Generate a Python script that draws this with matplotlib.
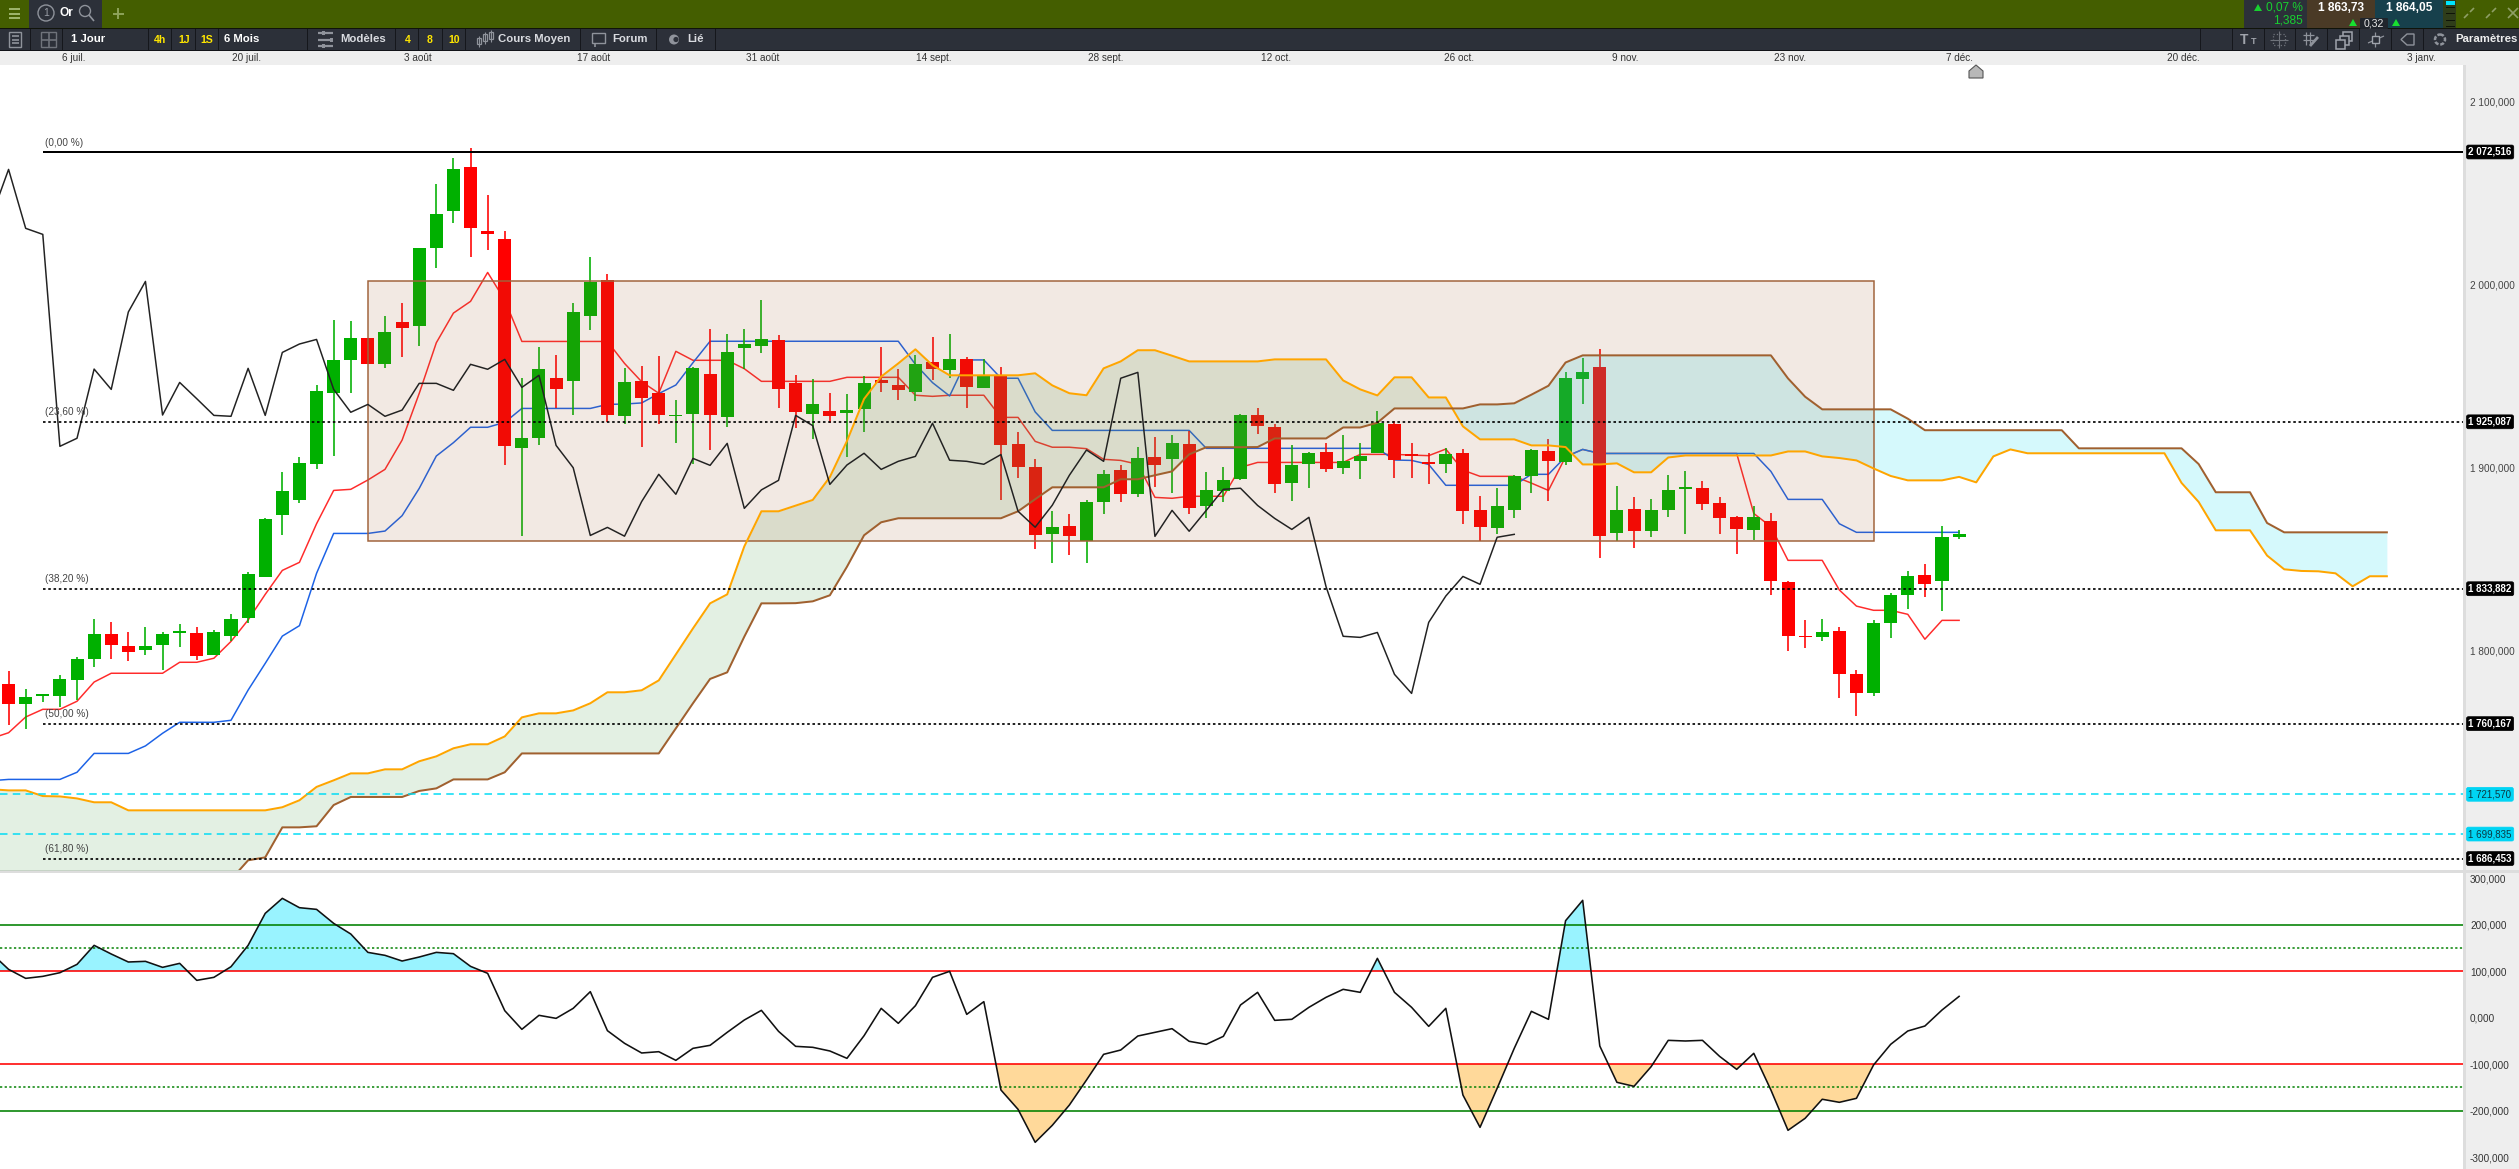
import numpy as np
import matplotlib
matplotlib.use("Agg")
import matplotlib.pyplot as plt
from matplotlib.patches import Rectangle, Circle, Polygon, FancyBboxPatch
from matplotlib.transforms import blended_transform_factory

plt.rcParams['font.family'] = ['Liberation Sans']

# ---------------- data ----------------
direction = (
    "RGGGGGRRGG" "GRGGGGGGGG" "GRGRGGGRRR" "GGRGGRGRRG" "GRGGGRRGRG"
    "GRRGRGRGRR" "RGRGGRGRGR" "GGGRRGGRGG" "GRRRGRRGGG" "RGGRGRGGGR"
    "RRGRRRGRRG" "GGRGG"
)

body_top = [1781.8,1774.7,1775.6,1784.6,1795.5,1809.2,1809.2,1802.6,1802.6,1809.2,
            1810.1,1809.7,1810.2,1817.3,1841.9,1872.0,1887.3,1902.6,1941.9,1958.9,
            1970.9,1970.9,1974.1,1979.6,2020.0,2038.6,2063.2,2064.3,2029.3,2024.9,
            1916.2,1953.9,1949.0,1985.1,2001.6,2002.6,1946.8,1947.4,1940.8,1928.2,
            1954.5,1951.2,1963.2,1967.6,1970.3,1969.8,1946.3,1934.8,1931.0,1931.5,
            1946.3,1947.9,1945.2,1956.7,1957.8,1959.4,1959.4,1950.1,1950.1,1913.0,
            1900.4,1867.6,1868.2,1881.3,1896.6,1898.8,1905.3,1905.9,1913.5,1913.0,
            1887.9,1893.3,1928.8,1928.8,1922.2,1901.5,1908.0,1908.6,1903.6,1906.4,
            1924.4,1923.9,1906.9,1903.1,1907.5,1908.0,1876.9,1879.1,1895.4,1909.7,
            1909.1,1949.0,1952.3,1955.0,1876.9,1877.4,1876.9,1887.8,1888.9,1888.9,
            1880.7,1873.1,1873.1,1870.9,1837.5,1807.7,1810.2,1810.8,1787.3,1815.1,
            1830.5,1840.9,1841.4,1862.2,1863.8]
body_bot = [1771.1,1771.1,1775.5,1775.5,1784.2,1795.7,1803.3,1799.5,1800.6,1803.3,
            1809.8,1797.3,1797.7,1808.2,1818.1,1840.3,1874.2,1882.5,1902.2,1940.8,
            1958.9,1956.7,1956.7,1976.3,1977.4,2020.0,2040.2,2031.0,2027.7,1911.9,
            1910.8,1916.2,1943.0,1947.4,1982.9,1928.8,1928.4,1938.1,1928.8,1928.0,
            1929.4,1928.8,1927.7,1965.4,1966.5,1943.0,1930.5,1929.4,1928.3,1929.9,
            1932.1,1946.3,1942.5,1941.4,1954.0,1953.4,1944.1,1943.6,1912.4,1900.4,
            1863.3,1863.8,1862.7,1859.8,1881.3,1885.7,1885.7,1901.5,1904.8,1878.0,
            1879.1,1887.3,1893.9,1922.8,1891.1,1891.6,1902.0,1899.3,1899.8,1903.6,
            1908.0,1904.2,1906.5,1902.2,1902.0,1876.3,1867.6,1867.0,1876.9,1895.4,
            1903.6,1903.1,1948.4,1862.7,1864.3,1865.4,1865.4,1876.9,1888.5,1880.2,
            1872.5,1866.5,1866.0,1838.1,1808.0,1807.3,1807.5,1787.3,1776.9,1776.9,
            1815.2,1830.5,1836.5,1838.1,1862.2]
wick_hi = [1788.9,1779.1,1776.2,1786.8,1796.6,1817.3,1815.7,1810.2,1813.0,1810.2,
           1814.6,1813.0,1811.3,1820.0,1843.0,1872.5,1897.7,1905.9,1945.2,1980.7,
           1980.2,1970.9,1982.9,1990.0,2020.0,2055.0,2069.2,2074.7,2049.0,2029.3,
           1949.0,1966.0,1961.6,1990.0,2015.1,2005.8,1954.5,1955.6,1961.0,1937.0,
           1955.0,1975.8,1973.1,1975.8,1991.6,1972.5,1950.7,1948.5,1940.8,1940.3,
           1950.1,1966.0,1953.9,1961.6,1971.4,1973.1,1960.5,1959.4,1955.0,1919.5,
           1904.8,1876.4,1874.7,1882.4,1898.8,1901.5,1911.3,1916.8,1917.9,1920.0,
           1897.7,1900.4,1929.4,1932.6,1923.9,1912.4,1908.6,1913.5,1917.9,1913.5,
           1930.9,1925.5,1913.5,1908.0,1910.7,1910.2,1884.5,1888.9,1896.0,1910.2,
           1915.7,1952.3,1959.9,1964.8,1890.0,1884.0,1882.9,1896.0,1898.2,1892.7,
           1884.0,1873.6,1879.1,1875.2,1838.1,1816.8,1817.3,1813.0,1789.5,1816.8,
           1831.6,1843.6,1847.4,1868.2,1866.0]
wick_lo = [1759.4,1757.4,1772.2,1769.1,1772.9,1791.3,1795.7,1794.6,1797.9,1789.3,
           1802.2,1795.1,1797.7,1805.5,1815.3,1840.3,1863.2,1880.7,1899.5,1906.4,
           1940.8,1956.7,1954.5,1960.5,1966.5,2009.1,2033.7,2015.1,2018.9,1901.5,
           1862.7,1912.4,1932.6,1928.8,1975.2,1925.0,1923.9,1911.5,1924.1,1913.5,
           1902.1,1909.7,1922.3,1954.0,1962.7,1932.6,1921.7,1915.7,1924.6,1905.9,
           1919.5,1941.4,1937.0,1936.5,1947.9,1949.0,1932.6,1943.6,1882.4,1894.4,
           1855.6,1848.0,1852.3,1848.0,1874.7,1881.3,1884.0,1889.5,1886.2,1874.7,
           1872.5,1881.3,1893.3,1918.4,1886.2,1881.8,1888.9,1897.6,1896.5,1893.8,
           1908.0,1894.4,1894.4,1891.1,1897.1,1869.2,1859.9,1863.8,1872.5,1886.2,
           1881.8,1901.5,1934.8,1850.7,1859.9,1856.1,1862.1,1873.1,1863.8,1876.9,
           1863.8,1852.8,1860.5,1830.4,1799.8,1801.5,1805.3,1774.2,1764.3,1775.3,
           1807.0,1822.8,1829.4,1821.8,1861.1]

# lines start one session left of the first candle (index -1)
tenkan = [1752.1,1755.2,1763.8,1768.0,1768.0,1772.4,1782.9,1787.7,1787.7,1787.7,
          1787.7,1793.7,1793.7,1795.9,1805.1,1816.8,1830.8,1843.9,1848.3,1869.4,
          1887.6,1888.2,1893.3,1899.1,1915.1,1940.6,1968.3,1984.5,1990.9,2006.7,
          1991.6,1969.0,1969.0,1969.0,1969.0,1969.0,1969.0,1957.0,1947.0,1940.7,
          1963.6,1958.7,1958.7,1958.7,1954.1,1947.2,1947.2,1947.2,1947.2,1947.2,
          1949.4,1949.4,1949.4,1949.4,1939.6,1939.0,1939.6,1939.6,1939.6,1927.5,
          1927.5,1914.4,1911.2,1911.2,1910.4,1904.6,1904.0,1901.9,1883.8,1883.3,
          1884.4,1884.4,1884.4,1900.2,1902.9,1902.9,1902.9,1902.9,1902.9,1902.9,
          1907.3,1907.3,1907.3,1906.9,1906.6,1910.2,1898.7,1895.3,1895.3,1895.3,
          1891.6,1887.6,1906.0,1910.0,1907.8,1907.8,1907.8,1907.8,1907.8,1907.8,
          1907.8,1907.8,1907.8,1875.0,1867.8,1849.4,1849.4,1849.4,1833.2,1824.4,
          1822.1,1822.1,1819.9,1806.3,1816.6,1816.6]
kijun = [1729.0,1729.7,1729.7,1729.7,1729.7,1733.6,1743.9,1743.9,1743.9,1748.0,
         1754.9,1760.9,1760.9,1760.9,1762.0,1778.5,1793.1,1808.0,1813.7,1842.3,
         1864.1,1864.1,1864.1,1865.4,1873.8,1888.7,1906.4,1913.7,1922.1,1922.1,
         1924.8,1932.4,1932.4,1932.4,1932.4,1932.4,1934.6,1934.8,1935.4,1940.5,
         1945.2,1957.4,1969.1,1969.1,1969.1,1969.1,1969.1,1969.1,1969.1,1969.1,
         1969.1,1969.1,1969.1,1969.1,1956.5,1946.5,1939.2,1958.9,1958.9,1948.9,
         1948.9,1930.5,1920.4,1920.4,1920.4,1920.4,1920.4,1920.4,1920.4,1920.4,
         1920.4,1910.6,1910.6,1910.6,1910.6,1910.6,1910.6,1910.6,1910.6,1910.6,
         1910.6,1910.6,1904.2,1904.0,1901.8,1890.4,1890.4,1890.4,1890.4,1890.4,
         1896.4,1896.4,1906.0,1910.0,1907.8,1907.8,1907.8,1907.8,1907.8,1907.8,
         1907.8,1907.8,1907.8,1907.8,1898.0,1882.7,1882.7,1882.7,1869.4,1864.7,
         1864.7,1864.7,1864.7,1864.7,1864.7,1864.7]
chikou = [2037.2,2063.0,2030.8,2027.5,1911.7,1916.1,1953.9,1942.8,1985.1,2001.8,
          1928.8,1946.6,1937.7,1928.6,1928.1,1954.3,1928.6,1963.0,1967.6,1970.1,
          1942.8,1930.3,1934.6,1928.1,1931.5,1946.1,1946.1,1942.3,1956.5,1953.8,
          1959.2,1943.9,1950.5,1912.2,1900.0,1863.0,1867.4,1862.6,1881.5,1896.4,1885.5,
          1905.1,1901.3,1913.3,1877.8,1887.9,1893.1,1928.6,1923.0,1890.9,1901.5,
          1907.9,1899.1,1903.5,1906.2,1924.3,1904.1,1903.5,1901.9,1907.2,1876.2,
          1867.5,1879.5,1895.9,1909.7,1903.5,1948.9,1952.1,1862.5,1876.7,1865.3,
          1876.7,1888.2,1888.8,1879.4,1872.3,1866.3,1872.9,1835.0,1807.9,1807.3,
          1810.0,1787.1,1776.7,1815.5,1829.9,1840.6,1836.3,1862.0,1863.6]
senkou_a = [1724.3,1723.7,1723.7,1720.6,1720.4,1719.3,1717.2,1717.2,1712.8,1712.8,
            1712.8,1712.8,1712.8,1712.8,1712.8,1712.8,1712.8,1714.5,1718.3,1725.6,
            1729.2,1733.0,1733.0,1735.2,1735.2,1739.6,1742.3,1746.7,1748.9,1748.9,
            1753.2,1763.6,1765.8,1765.8,1767.4,1771.3,1777.3,1777.3,1778.4,1783.8,
            1798.0,1812.2,1825.9,1830.8,1857.0,1876.2,1876.2,1879.3,1882.4,1894.9,
            1914.6,1937.6,1949.8,1957.0,1964.7,1956.0,1950.5,1950.5,1950.5,1950.5,
            1950.5,1951.6,1945.0,1940.7,1939.6,1954.3,1958.1,1964.2,1964.2,1961.2,
            1958.1,1958.1,1958.1,1958.1,1958.1,1959.2,1959.2,1959.2,1959.2,1947.7,
            1942.8,1939.5,1949.4,1949.4,1938.4,1938.4,1922.6,1915.5,1915.5,1915.5,
            1912.2,1912.2,1911.3,1901.8,1901.8,1902.4,1897.5,1897.5,1905.6,1906.7,
            1906.7,1906.7,1906.7,1906.7,1906.7,1908.9,1908.9,1906.2,1905.3,1904.0,
            1899.6,1895.5,1893.1,1893.1,1893.1,1895.0,1892.0,1906.2,1910.0,1907.9,
            1907.9,1907.9,1907.9,1907.9,1907.9,1907.9,1907.9,1907.9,1891.7,1881.3,
            1865.8,1865.8,1865.8,1852.0,1844.5,1843.6,1843.4,1842.3,1835.2,1840.7,
            1840.7]
senkou_b = [1640.0,1640.0,1645.0,1645.0,1650.0,1650.0,1650.0,1655.0,1655.0,1655.0,
            1655.0,1660.0,1660.0,1665.0,1675.0,1685.5,1687.1,1703.5,1703.5,1704.1,
            1715.7,1720.1,1720.1,1720.1,1720.1,1723.4,1724.8,1729.7,1729.7,1729.7,
            1733.6,1743.9,1743.9,1743.9,1743.9,1743.9,1743.9,1743.9,1743.9,1743.9,
            1757.6,1771.3,1784.6,1788.2,1807.7,1825.9,1825.9,1826.0,1827.0,1830.3,
            1845.9,1863.1,1870.2,1872.4,1872.4,1872.4,1872.4,1872.4,1872.4,1872.4,
            1876.2,1882.8,1889.3,1889.3,1889.3,1889.3,1893.7,1893.7,1895.9,1898.0,
            1907.3,1911.2,1911.2,1911.2,1911.3,1916.0,1916.0,1916.0,1916.0,1922.0,
            1922.0,1924.6,1932.4,1932.4,1932.4,1932.4,1932.4,1934.6,1934.6,1935.2,
            1939.9,1944.8,1957.5,1961.4,1961.4,1961.4,1961.4,1961.4,1961.4,1961.4,
            1961.4,1961.4,1961.4,1961.4,1961.4,1948.8,1938.8,1931.9,1931.9,1931.9,
            1931.9,1931.9,1926.8,1920.5,1920.5,1920.5,1920.5,1920.5,1920.5,1920.5,
            1920.5,1920.5,1910.6,1910.6,1910.6,1910.6,1910.6,1910.6,1910.6,1902.0,
            1886.6,1886.6,1886.6,1869.8,1864.7,1864.7,1864.7,1864.7,1864.7,1864.7,
            1864.7]
cci = [138.0,103.6,84.2,88.5,96.4,114.3,155.2,136.6,119.4,120.8,
       107.9,116.5,79.9,86.4,109.3,155.2,224.0,256.3,236.2,232.6,
       202.5,179.6,140.1,133.7,121.5,130.1,140.1,137.3,110.0,95.0,
       14.7,-25.4,4.7,-1.8,19.7,55.6,-28.3,-55.5,-76.3,-73.5,
       -92.1,-66.3,-59.8,-31.9,-5.4,15.4,-29.7,-62.0,-64.1,-72.0,
       -87.8,-39.1,19.7,-12.5,25.4,86.4,99.3,6.8,34.1,-155.9,
       -197.5,-268.4,-231.9,-188.2,-134.4,-79.2,-69.9,-39.8,-31.9,-24.0,
       -51.2,-57.7,-40.5,26.9,54.1,-6.1,-3.9,21.9,43.4,60.6,
       54.1,127.2,54.1,21.9,-19.0,19.7,-166.7,-236.2,-152.3,-66.3,
       13.3,-3.9,208.2,252.0,-61.3,-139.4,-148.0,-105.7,-49.1,-50.5,
       -49.1,-83.5,-111.5,-77.0,-155.9,-242.6,-216.8,-175.8,-182.4,-173.8,
       -102.1,-57.7,-29.0,-18.3,16.1,45.5]

fib_levels = [2072.516, 1925.087, 1833.882, 1760.167, 1686.453]
fib_labels = ["(0,00 %)", "(23,60 %)", "(38,20 %)", "(50,00 %)", "(61,80 %)"]
fib_badges = ["2 072,516", "1 925,087", "1 833,882", "1 760,167", "1 686,453"]
cyan_levels = [1721.570, 1699.835]
cyan_badges = ["1 721,570", "1 699,835"]
price_ticks = [2100, 2000, 1900, 1800]
price_tick_labels = ["2 100,000", "2 000,000", "1 900,000", "1 800,000"]
cci_ticks = [300, 200, 100, 0, -100, -200, -300]
cci_tick_labels = ["300,000", "200,000", "100,000", "0,000", "-100,000", "-200,000", "-300,000"]
date_positions = [3.8, 13.9, 23.9, 34.2, 44.1, 54.1, 64.1, 74.1, 84.8, 94.5, 104.1, 114.0, 127.1, 141.0]
date_labels = ["6 juil.", "20 juil.", "3 août", "17 août", "31 août", "14 sept.", "28 sept.",
               "12 oct.", "26 oct.", "9 nov.", "23 nov.", "7 déc.", "20 déc.", "3 janv."]
range_box = (21, 109, 1859.8, 2001.8)

# ---------------- layout ----------------
W, H = 2519, 1169
fig = plt.figure(figsize=(W / 100, H / 100), dpi=100, facecolor="white")
px = 0.72  # one pixel in points


def axes_rect(x0, y0, x1, y1):
    return [x0 / W, 1 - y1 / H, (x1 - x0) / W, (y1 - y0) / H]


chrome = fig.add_axes([0, 0, 1, 1], zorder=0)
chrome.set_xlim(0, W)
chrome.set_ylim(H, 0)
chrome.axis("off")

ax = fig.add_axes(axes_rect(0, 65, 2463, 870), zorder=2)
ax2 = fig.add_axes(axes_rect(0, 873, 2463, 1169), zorder=2)

X_LEFT = -0.5009
X_RIGHT = 143.45
ax.set_xlim(X_LEFT, X_RIGHT)
ax.set_ylim(1680.2, 2120.05)
ax2.set_xlim(X_LEFT, X_RIGHT)
ax2.set_ylim(-325.8, 310.8)

for a in (ax, ax2):
    for s in a.spines.values():
        s.set_visible(False)
    a.set_facecolor("white")
    a.yaxis.tick_right()
    a.tick_params(axis="y", length=0, pad=5, labelsize=7.2, labelcolor="#444444")
ax2.tick_params(axis="y", labelcolor="#333333")

ax.set_yticks(price_ticks, price_tick_labels)
ax2.set_yticks(cci_ticks, cci_tick_labels)
ax2.set_xticks([])
ax.xaxis.tick_top()
ax.set_xticks(date_positions, date_labels)
ax.tick_params(axis="x", length=0, pad=1.5, labelsize=7.2, labelcolor="#333333")

# ---------------- main panel ----------------
idx = np.arange(len(body_top))
line_x = np.arange(-1, 140)
sa = np.array(senkou_a)
sb = np.array(senkou_b)
up = np.array([d == "G" for d in direction])
top = np.array(body_top)
bot = np.array(body_bot)
GREEN, RED = "#00b000", "#ff0000"

ax.plot(np.arange(-1, len(tenkan) - 1), tenkan, color="#ff2b2b", lw=1.5 * px, zorder=2)
ax.plot(np.arange(-1, len(kijun) - 1), kijun, color="#1c62e6", lw=1.5 * px, zorder=2)

cols = [GREEN if u else RED for u in up]
ax.vlines(idx, wick_lo, wick_hi, colors=cols, lw=1.6 * px, zorder=3)
ax.bar(idx, np.maximum(top - bot, 0.8), bottom=bot, width=0.76, color=cols, linewidth=0, zorder=3)

# the cloud and the range box are translucent layers above the candles
ax.fill_between(line_x, sa, sb, where=sa >= sb, interpolate=True, color=(90 / 255, 167 / 255, 90 / 255),
                alpha=0.17, linewidth=0, zorder=4)
ax.fill_between(line_x, sa, sb, where=sa <= sb, interpolate=True, color=(8 / 255, 220 / 255, 243 / 255),
                alpha=0.17, linewidth=0, zorder=4)
x0, x1, y0, y1 = range_box
ax.add_patch(Rectangle((x0, y0), x1 - x0, y1 - y0, facecolor=(160 / 255, 90 / 255, 44 / 255, 0.13),
                       edgecolor="#a0623a", lw=1.5 * px, zorder=5))

ax.plot(line_x, sa, color="#ffa500", lw=2 * px, zorder=6)
ax.plot(line_x, sb, color="#a0602f", lw=2 * px, zorder=6)
ax.plot(np.arange(-1, len(chikou) - 1), chikou, color="#222222", lw=1.5 * px, zorder=6)

for i, (lev, lab) in enumerate(zip(fib_levels, fib_labels)):
    ax.hlines(lev, 2, X_RIGHT, colors="black", lw=2 * px if i == 0 else 1.7 * px,
              linestyles="solid" if i == 0 else (0, (1.5, 1.6)), zorder=7)
    ax.text(2.1, lev + 2.4, lab, fontsize=7.2, color="#444444", va="bottom", ha="left", zorder=8)

bt = blended_transform_factory(ax.transAxes, ax.transData)
BADGE_X = 1.0022
for lev, badge in zip(fib_levels, fib_badges):
    ax.text(BADGE_X, lev, badge, transform=bt, fontsize=7.0, color="white", fontweight="bold",
            va="center", ha="left", clip_on=False, zorder=9,
            bbox=dict(boxstyle="round,pad=0.2", fc="black", ec="black", lw=0.5))
for lev, badge in zip(cyan_levels, cyan_badges):
    ax.hlines(lev, X_LEFT, X_RIGHT, colors="#00dcf5", lw=1.5 * px, linestyles=(0, (5, 3.5)), zorder=7)
    ax.text(BADGE_X, lev, badge, transform=bt, fontsize=7.0, color="#0b3a44",
            va="center", ha="left", clip_on=False, zorder=9,
            bbox=dict(boxstyle="round,pad=0.2", fc="#00d4f4", ec="#00d4f4", lw=0.5))

# ---------------- CCI panel ----------------
cx = np.arange(-1, len(cci) - 1)
cv = np.array(cci)
ax2.fill_between(cx, cv, 100, where=cv >= 100, interpolate=True, color="#99f3ff", linewidth=0, zorder=1)
ax2.fill_between(cx, cv, -100, where=cv <= -100, interpolate=True, color="#ffd99a", linewidth=0, zorder=1)
for v in (200, -200):
    ax2.axhline(v, color="#008000", lw=1.6 * px, zorder=2)
for v in (150, -150):
    ax2.axhline(v, color="#008000", lw=1.5 * px, ls=(0, (1.5, 1.6)), zorder=2)
for v in (100, -100):
    ax2.axhline(v, color="#ff0000", lw=1.6 * px, zorder=2)
ax2.plot(cx, cv, color="#111111", lw=1.6 * px, zorder=3)


# ---------------- application chrome ----------------
def box(x0, y0, x1, y1, color, z=1):
    chrome.add_patch(Rectangle((x0, y0), x1 - x0, y1 - y0, facecolor=color, edgecolor="none", zorder=z))


def label(x, y, s, color="white", size=8.2, weight="bold", ha="left"):
    chrome.text(x, y, s, color=color, fontsize=size, fontweight=weight, ha=ha, va="center", zorder=5)


def stroke(xs, ys, color="#8f939b", lw=1.2):
    chrome.plot(xs, ys, color=color, lw=lw, zorder=4, solid_capstyle="butt")


DARK = "#2c3039"
box(0, 0, W, 28, "#445e00")
box(0, 28, W, 29, "#10130a")
box(0, 29, W, 50, DARK)
box(0, 50, W, 51, "#111318")
box(0, 51, W, 65, "#eeeeee", z=1)
box(2463, 65, W, H, "#eeeeee")
box(2462, 65, 2466, H, "#dddddd", z=3)
box(0, 870, W, 873, "#dddddd", z=3)

# left of the top bar
for yb in (9, 13.5, 18):
    box(9, yb - 1, 20, yb + 1, "#9cb36a", z=2)
box(29, 0, 102, 28, DARK, z=2)
chrome.add_patch(Circle((46, 13), 8, fill=False, ec="#8f939b", lw=1, zorder=4))
label(46, 13, "1", color="#9a9ea6", size=7.5, weight="normal", ha="center")
label(60, 13, "Or", size=8.6, weight="bold")
chrome.add_patch(Circle((85, 11), 5.5, fill=False, ec="#8f939b", lw=1, zorder=4))
stroke([89, 94], [15, 21])
stroke([118, 118], [8, 19], color="#8ea35a", lw=1.4)
stroke([112.5, 123.5], [13.5, 13.5], color="#8ea35a", lw=1.4)

# toolbar separators
for xs in (30, 62, 148, 171, 195, 218, 307, 395, 418, 442, 465, 580, 656, 715,
           2200, 2232, 2264, 2295, 2327, 2359, 2391, 2423):
    box(xs, 29, xs + 1.4, 50, "#15171c", z=2)

label(71, 39.5, "1 Jour")
for xs, s in ((160, "4h"), (184, "1J"), (207, "1S"), (408, "4"), (430, "8"), (454, "10")):
    label(xs, 40, s, color="#ffe600", size=7.6, ha="center")
label(224, 39.5, "6 Mois")
label(340, 39.5, "Modèles", color="#d9dbe0")
label(498, 39.5, "Cours Moyen", color="#d9dbe0")
label(612, 39.5, "Forum", color="#d9dbe0")
label(687, 39.5, "Lié", color="#d9dbe0")

# toolbar icons
chrome.add_patch(Rectangle((9, 32), 12, 15, fill=False, ec="#8f939b", lw=1, zorder=4))
for yb in (36, 39.5, 43):
    stroke([11.5, 18.5], [yb, yb])
chrome.add_patch(Rectangle((41, 32), 15, 15, fill=False, ec="#6f737b", lw=1, zorder=4))
stroke([48.5, 48.5], [32, 47], color="#6f737b")
stroke([41, 56], [39.5, 39.5], color="#6f737b")
for yb, xa in ((33, 322), (39.5, 330), (46, 322)):
    stroke([318, 333], [yb, yb], lw=1.6)
    box(xa, yb - 2, xa + 3, yb + 2, "#8f939b", z=4)
for xa, ya, yc in ((477, 38, 47), (483, 34, 44), (489, 32, 42)):
    chrome.add_patch(Rectangle((xa, ya), 3.5, yc - ya - 3, fill=False, ec="#8f939b", lw=0.9, zorder=4))
    stroke([xa + 1.7, xa + 1.7], [ya - 2, yc], lw=0.8)
chrome.add_patch(Rectangle((592, 33), 13, 10, fill=False, ec="#8f939b", lw=1, zorder=4))
stroke([595, 595], [43, 47])
chrome.add_patch(Circle((674, 39.5), 5, fc="#8f939b", ec="none", zorder=4))
chrome.add_patch(Circle((676, 39.5), 2.6, fc=DARK, ec="none", zorder=4))

# right of the toolbar
label(2240, 39.5, "T", color="#a0a4ac", size=10, weight="bold")
label(2251, 41, "T", color="#a0a4ac", size=6.5, weight="bold")
chrome.add_patch(Rectangle((2273, 34), 12, 11, fill=False, ec="#6f737b", lw=0.9, ls=":", zorder=4))
stroke([2279, 2279], [31, 48], color="#6f737b", lw=0.8)
stroke([2270, 2288], [39.5, 39.5], color="#6f737b", lw=0.8)
stroke([2306, 2306], [32, 45], lw=0.9)
stroke([2310, 2310], [32, 45], lw=0.9)
stroke([2303, 2314], [35, 35], lw=0.9)
stroke([2303, 2314], [40, 40], lw=0.9)
stroke([2310, 2318], [46, 37], lw=2)
for k in range(3):
    chrome.add_patch(Rectangle((2336 + 3.5 * k, 40 - 4 * k), 9, 9, fc=DARK, ec="#a0a4ac", lw=1.1, zorder=6 - k))
stroke([2375, 2375], [32, 47], lw=0.9)
stroke([2368, 2384], [43, 36], lw=0.9)
chrome.add_patch(Rectangle((2371.5, 36), 7, 7, fc=DARK, ec="#a0a4ac", lw=1, zorder=5))
chrome.add_patch(Polygon([(2401, 39.5), (2407, 34), (2414, 34), (2414, 45), (2407, 45)],
                         closed=True, fill=False, ec="#8f939b", lw=1, zorder=4))
chrome.add_patch(Circle((2440, 39.5), 5, fill=False, ec="#8f939b", lw=1.8, ls=(0, (1.6, 0.7)), zorder=4))
label(2455, 39, "Paramètres", color="#eeeeee", size=8.2)

# quote boxes
box(2244, 0, 2307, 28, DARK, z=2)
box(2307, 0, 2375, 28, "#4a3a26", z=2)
box(2375, 0, 2443, 28, "#17404c", z=2)
box(2443, 0, 2456, 28, "#2f3d1a", z=2)
box(2446, 1, 2455, 5, "#00e5ff", z=3)
for yb in (7, 13, 20, 26):
    box(2446, yb, 2455, yb + 1, "#0f1408", z=3)
chrome.add_patch(Polygon([(2254, 11), (2258, 4), (2262, 11)], closed=True, fc="#18d030", ec="none", zorder=4))
label(2266, 7.5, "0,07 %", color="#18d030", size=8.6, weight="normal")
label(2303, 20.5, "1,385", color="#18d030", size=8.6, weight="normal", ha="right")
label(2341, 8, "1 863,73", size=8.6, ha="center")
label(2409, 8, "1 864,05", size=8.6, ha="center")
for xa in (2353, 2396):
    chrome.add_patch(Polygon([(xa - 4, 26), (xa, 19), (xa + 4, 26)], closed=True, fc="#18e030", ec="none", zorder=4))
chrome.add_patch(FancyBboxPatch((2361, 19), 26, 9, boxstyle="round,pad=1", fc="#20252c", ec="none", zorder=4))
label(2374, 23.5, "0,32", color="#e8e8e8", size=7.6, weight="normal", ha="center")
for xa in (2469, 2491):
    stroke([xa - 5, xa - 1], [18, 14], color="#8f9f66")
    stroke([xa + 1, xa + 5], [12, 8], color="#8f9f66")
stroke([2508, 2518], [8, 18], color="#8f9f66")
stroke([2518, 2508], [8, 18], color="#8f9f66")

# alert marker at the top of the price panel, drawn above the axes
fig.add_artist(Polygon([(1969, 78), (1969, 71), (1976, 65), (1983, 71), (1983, 78)], closed=True,
                       fc="#b8b8b8", ec="#555555", lw=0.8, zorder=10, transform=chrome.transData))

assert len(direction) == 115 and len(body_top) == 115 and len(body_bot) == 115
assert len(wick_hi) == 115 and len(wick_lo) == 115
assert len(tenkan) == 116 and len(kijun) == 116 and len(cci) == 116
assert len(senkou_a) == 141 and len(senkou_b) == 141 and len(chikou) == 90
fig.savefig("out.png", dpi=100, facecolor="white")
